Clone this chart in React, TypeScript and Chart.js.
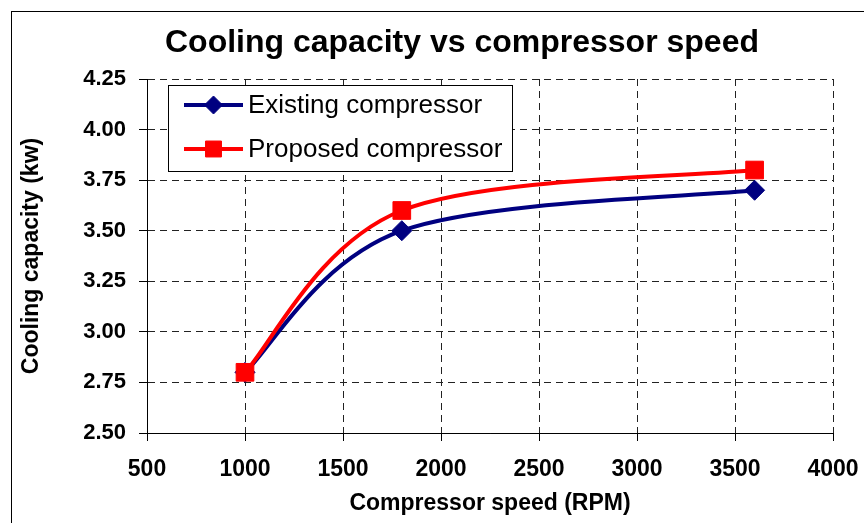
import React, { useEffect, useRef } from 'react';
import { Chart, registerables } from 'chart.js';

Chart.register(...registerables);

// ---- data ----
const speeds = [1000, 1800, 3600];
const existingCapacity = [2.8, 3.5, 3.7];
const proposedCapacity = [2.8, 3.6, 3.8];
const seriesLabels = ['Existing compressor', 'Proposed compressor'];
const seriesColors = ['#000080', '#FF0000'];
const chartTitle = 'Cooling capacity vs compressor speed';
const xAxisTitle = 'Compressor speed (RPM)';
const yAxisTitle = 'Cooling capacity (kw)';
const xTickRange = [500, 4000, 500];
const yTickRange = [2.5, 4.25, 0.25];

const FONT = "'Liberation Sans', Arial, Helvetica, sans-serif";

function drawMarker(ctx: CanvasRenderingContext2D, style: string, x: number, y: number, r: number) {
  ctx.beginPath();
  if (style === 'rectRot') {
    ctx.moveTo(x - r, y);
    ctx.lineTo(x, y - r);
    ctx.lineTo(x + r, y);
    ctx.lineTo(x, y + r);
  } else {
    const s = Math.SQRT1_2 * r;
    ctx.rect(x - s, y - s, 2 * s, 2 * s);
  }
  ctx.closePath();
  ctx.fill();
  ctx.stroke();
}

const framePlugin = {
  id: 'frame',
  beforeDraw(chart: any) {
    const { ctx, width, height } = chart;
    ctx.save();
    ctx.fillStyle = '#ffffff';
    ctx.fillRect(0, 0, width, height);
    ctx.strokeStyle = '#000000';
    ctx.lineWidth = 1;
    ctx.strokeRect(11.5, 11.5, width + 20, height + 20);
    ctx.restore();
  },
  afterDraw(chart: any) {
    const { ctx } = chart;
    ctx.save();
    ctx.fillStyle = '#000000';
    ctx.font = `bold 32px ${FONT}`;
    ctx.textAlign = 'center';
    ctx.textBaseline = 'alphabetic';
    ctx.fillText(chartTitle, 462, 52);
    ctx.restore();
  },
};

// Excel-like smoothing (Catmull-Rom control points) applied to library-computed point positions
const smoothPlugin = {
  id: 'excelSmooth',
  beforeDatasetsDraw(chart: any) {
    chart.getSortedVisibleDatasetMetas().forEach((meta: any) => {
      const line = meta.dataset;
      if (!line) return;
      line.updateControlPoints(chart.chartArea, meta.iScale.axis);
      const pts = meta.data;
      for (let i = 0; i < pts.length; i++) {
        const p = pts[i];
        const prev = pts[i - 1] || p;
        const next = pts[i + 1] || p;
        const dx = (next.x - prev.x) / 6;
        const dy = (next.y - prev.y) / 6;
        p.cp1x = p.x - dx;
        p.cp1y = p.y - dy;
        p.cp2x = p.x + dx;
        p.cp2y = p.y + dy;
      }
      line._path = undefined;
    });
  },
};

const boxLegendPlugin = {
  id: 'boxLegend',
  afterDatasetsDraw(chart: any) {
    const { ctx, chartArea } = chart;
    const x0 = chartArea.left + 21;
    const y0 = chartArea.top + 6;
    const w = 344;
    const h = 86;
    ctx.save();
    ctx.fillStyle = '#ffffff';
    ctx.fillRect(x0, y0, w, h);
    ctx.strokeStyle = '#000000';
    ctx.lineWidth = 1;
    ctx.strokeRect(Math.round(x0) + 0.5, Math.round(y0) + 0.5, w, h);
    chart.data.datasets.forEach((ds: any, i: number) => {
      const cy = y0 + 20 + i * 44;
      ctx.strokeStyle = ds.borderColor;
      ctx.fillStyle = ds.borderColor;
      ctx.lineWidth = 4;
      ctx.beginPath();
      ctx.moveTo(x0 + 16, cy);
      ctx.lineTo(x0 + 75, cy);
      ctx.stroke();
      ctx.lineWidth = 1;
      drawMarker(ctx, ds.pointStyle, x0 + 45.5, cy, ds.pointRadius * 0.9);
      ctx.fillStyle = '#000000';
      ctx.font = `26px ${FONT}`;
      ctx.textAlign = 'left';
      ctx.textBaseline = 'middle';
      ctx.fillText(ds.label, x0 + 80, cy + 1);
    });
    ctx.restore();
  },
};

export default function App() {
  const canvasRef = useRef<HTMLCanvasElement | null>(null);

  useEffect(() => {
    if (!canvasRef.current) return;
    const chart = new Chart(canvasRef.current, {
      type: 'line',
      data: {
        datasets: [
          {
            label: seriesLabels[0],
            data: speeds.map((s, i) => ({ x: s, y: existingCapacity[i] })),
            borderColor: seriesColors[0],
            backgroundColor: seriesColors[0],
            borderWidth: 4,
            pointStyle: 'rectRot',
            pointRadius: 10,
            pointBorderWidth: 1,
            pointBackgroundColor: seriesColors[0],
            pointBorderColor: seriesColors[0],
            tension: 0.3,
            order: 2,
          } as any,
          {
            label: seriesLabels[1],
            data: speeds.map((s, i) => ({ x: s, y: proposedCapacity[i] })),
            borderColor: seriesColors[1],
            backgroundColor: seriesColors[1],
            borderWidth: 4,
            pointStyle: 'rect',
            pointRadius: 12.5,
            pointBorderWidth: 1,
            pointBackgroundColor: seriesColors[1],
            pointBorderColor: seriesColors[1],
            tension: 0.3,
            order: 1,
          } as any,
        ],
      },
      options: {
        animation: false,
        responsive: false,
        events: [],
        layout: { padding: { left: 0, right: 31, top: 79, bottom: 0 } },
        plugins: {
          legend: { display: false },
          tooltip: { enabled: false },
          title: { display: false },
        },
        scales: {
          x: {
            type: 'linear',
            min: xTickRange[0],
            max: xTickRange[1],
            ticks: {
              stepSize: xTickRange[2],
              color: '#000000',
              font: { family: FONT, size: 23, weight: 'bold' },
              padding: 15,
              maxRotation: 0,
              autoSkip: false,
              callback: (v: any) => String(v),
            },
            grid: {
              color: '#222222',
              lineWidth: 1,
              tickLength: 8,
              tickColor: '#000000',
              tickBorderDash: [],
            },
            border: { display: true, color: '#000000', width: 1, dash: [7, 5] },
            title: {
              display: true,
              text: xAxisTitle,
              color: '#000000',
              font: { family: FONT, size: 23, weight: 'bold', lineHeight: 1.2 },
              padding: { top: 6, bottom: 6 },
            },
            afterFit(scale: any) {
              scale.height = 90;
              scale.paddingLeft = 0;
              scale.paddingRight = 0;
            },
          },
          y: {
            type: 'linear',
            min: yTickRange[0],
            max: yTickRange[1],
            ticks: {
              stepSize: yTickRange[2],
              color: '#000000',
              font: { family: FONT, size: 22, weight: 'bold' },
              padding: 13,
              callback: (v: any) => Number(v).toFixed(2),
            },
            grid: {
              color: '#222222',
              lineWidth: 1,
              tickLength: 8,
              tickColor: '#000000',
              tickBorderDash: [],
            },
            border: { display: true, color: '#000000', width: 1, dash: [7, 5] },
            title: {
              display: true,
              text: yAxisTitle,
              color: '#000000',
              font: { family: FONT, size: 23, weight: 'bold', lineHeight: 1.2 },
              padding: { top: 18, bottom: 18 },
            },
            afterFit(scale: any) {
              scale.width = 147;
              scale.paddingTop = 0;
              scale.paddingBottom = 0;
            },
          },
        },
      } as any,
      plugins: [framePlugin, smoothPlugin, boxLegendPlugin],
    });
    return () => chart.destroy();
  }, []);

  return (
    <div style={{ position: 'fixed', left: 0, top: 0, width: 864, height: 523, background: '#fff' }}>
      <canvas ref={canvasRef} width={864} height={523} style={{ display: 'block' }} />
    </div>
  );
}
